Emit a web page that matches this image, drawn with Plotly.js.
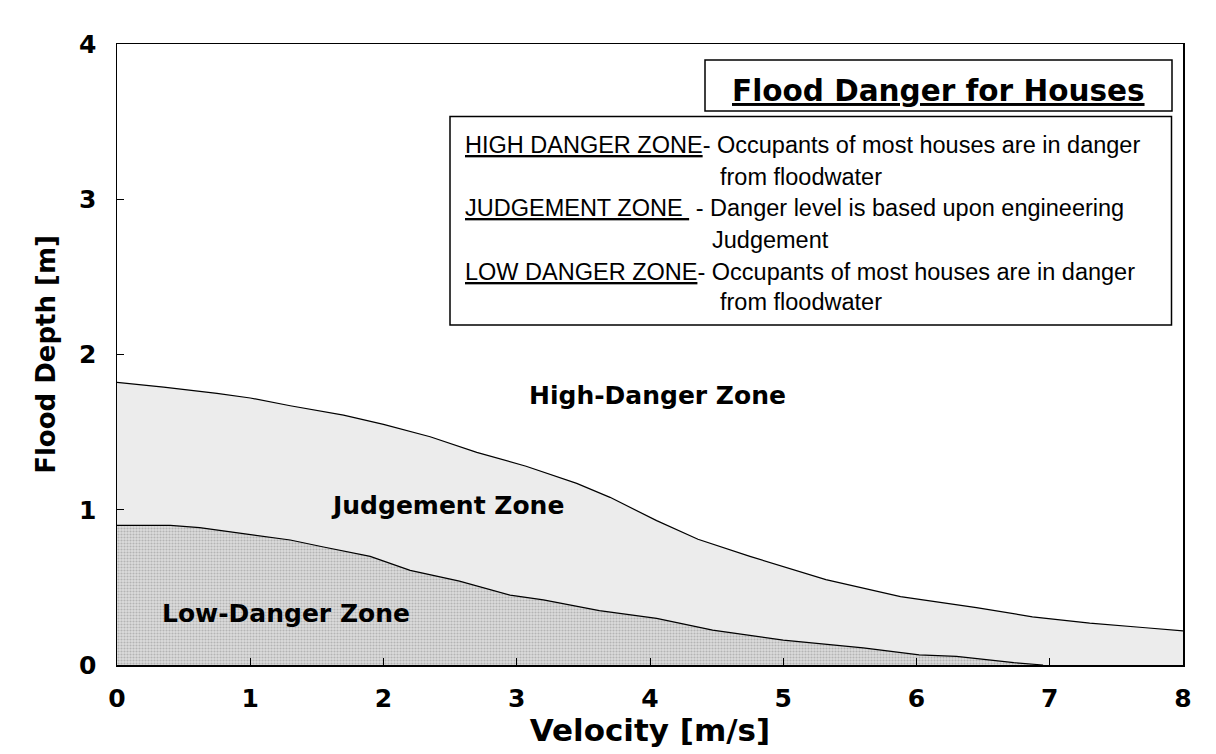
<!DOCTYPE html>
<html>
<head>
<meta charset="utf-8">
<script src="https://cdn.plot.ly/plotly-3.0.1.min.js"></script>
<style>html,body{margin:0;padding:0;background:#fff;}#chart{width:1216px;height:754px;}</style>
</head>
<body>
<div id="chart"></div>
<script>
// Upper boundary: Judgement / High-Danger
var upperVelocity = [0, 0.35, 0.75, 1.0, 1.3, 1.7, 2.0, 2.35, 2.7, 3.07, 3.45, 3.7, 4.05, 4.36, 4.75, 5.32, 5.88, 6.45, 6.87, 7.3, 7.72, 8.0];
var upperDepth    = [1.82, 1.79, 1.75, 1.72, 1.67, 1.61, 1.55, 1.47, 1.37, 1.28, 1.17, 1.08, 0.93, 0.81, 0.70, 0.55, 0.44, 0.37, 0.31, 0.27, 0.24, 0.22];
// Lower boundary: Low-Danger / Judgement
var lowerVelocity = [0, 0.4, 0.62, 1.0, 1.3, 1.55, 1.9, 2.2, 2.57, 2.95, 3.2, 3.62, 4.05, 4.47, 5.0, 5.6, 6.02, 6.3, 6.73, 6.95];
var lowerDepth    = [0.90, 0.90, 0.885, 0.84, 0.805, 0.76, 0.70, 0.61, 0.54, 0.45, 0.42, 0.35, 0.30, 0.225, 0.16, 0.11, 0.065, 0.055, 0.015, 0.0];

var xTicks = [0, 1, 2, 3, 4, 5, 6, 7, 8];
var yTicks = [0, 1, 2, 3, 4];

var titleText = "<u>Flood Danger for Houses</u>";
var zoneLabels = ["High-Danger Zone", "Judgement Zone", "Low-Danger Zone"];
var boxLines = [
  "<u>HIGH DANGER ZONE</u>- Occupants of most houses are in danger",
  "from floodwater",
  "<u>JUDGEMENT ZONE </u> - Danger level is based upon engineering",
  "Judgement",
  "<u>LOW DANGER ZONE</u>- Occupants of most houses are in danger",
  "from floodwater"
];

// pixel -> paper helpers (layout positioning only)
var L = 117, T = 44, W = 1066, H = 621;
function px(x) { return (x - L) / W; }
function py(y) { return (T + H - y) / H; }

var boldFont = {family: "DejaVu Sans", weight: "bold", color: "#000"};
function bf(size) { return Object.assign({}, boldFont, {size: size}); }
var textFont = {family: "Liberation Sans, Arial, sans-serif", size: 23.5, color: "#000"};

var traces = [
  {
    x: upperVelocity, y: upperDepth, type: "scatter", mode: "lines",
    line: {color: "#000", width: 1.2}, fill: "tozeroy", fillcolor: "#ececec",
    hoverinfo: "skip", showlegend: false
  },
  {
    x: lowerVelocity, y: lowerDepth, type: "scatter", mode: "lines",
    line: {color: "#000", width: 1.2}, fill: "tozeroy", fillcolor: "#d6d6d6",
    fillpattern: {shape: ".", bgcolor: "#dcdcdc", fgcolor: "#b4b4b4", size: 3, solidity: 0.4},
    hoverinfo: "skip", showlegend: false
  }
];

var annotations = [
  {text: titleText, xref: "paper", yref: "paper", x: px(938), y: py(91), xanchor: "center", yanchor: "middle", showarrow: false, font: bf(29.5)},
  {text: zoneLabels[0], xref: "paper", yref: "paper", x: px(657), y: py(395), xanchor: "center", yanchor: "middle", showarrow: false, font: bf(25)},
  {text: zoneLabels[1], xref: "paper", yref: "paper", x: px(447), y: py(505), xanchor: "center", yanchor: "middle", showarrow: false, font: bf(25)},
  {text: zoneLabels[2], xref: "paper", yref: "paper", x: px(286), y: py(613), xanchor: "center", yanchor: "middle", showarrow: false, font: bf(25)}
];
var lineX = [463, 718, 463, 710, 463, 718];
var lineY = [145, 177, 208, 240, 272, 302];
for (var i = 0; i < boxLines.length; i++) {
  annotations.push({text: boxLines[i], xref: "paper", yref: "paper", x: px(lineX[i]), y: py(lineY[i]),
    xanchor: "left", yanchor: "middle", showarrow: false, font: textFont});
}

var shapes = [
  {type: "rect", xref: "paper", yref: "paper", x0: px(705), x1: px(1172), y0: py(111), y1: py(60),
   line: {color: "#000", width: 1.5}, fillcolor: "rgba(255,255,255,0)", layer: "above"},
  {type: "rect", xref: "paper", yref: "paper", x0: px(450), x1: px(1171.5), y0: py(325), y1: py(116.5),
   line: {color: "#000", width: 1.5}, fillcolor: "rgba(255,255,255,0)", layer: "above"}
];

var layout = {
  width: 1216, height: 754,
  margin: {l: L, r: 1216 - L - W, t: T, b: 754 - T - H},
  paper_bgcolor: "#fff", plot_bgcolor: "#fff",
  showlegend: false,
  xaxis: {
    range: [0, 8], tickvals: xTicks, ticktext: xTicks.map(String),
    ticks: "inside", ticklen: 7, tickcolor: "#000", tickwidth: 1,
    showline: true, mirror: true, linecolor: "#000", linewidth: 1.5,
    showgrid: false, zeroline: false,
    tickfont: bf(25), ticklabelstandoff: 10,
    title: {text: "Velocity [m/s]", font: bf(31), standoff: 8}
  },
  yaxis: {
    range: [0, 4], tickvals: yTicks, ticktext: yTicks.map(String),
    ticks: "inside", ticklen: 7, tickcolor: "#000", tickwidth: 1,
    showline: true, mirror: true, linecolor: "#000", linewidth: 1.5,
    showgrid: false, zeroline: false,
    tickfont: bf(25), ticklabelstandoff: 14,
    title: {text: "Flood Depth [m]", font: bf(26), standoff: 16}
  },
  annotations: annotations,
  shapes: shapes
};

Plotly.newPlot("chart", traces, layout, {displayModeBar: false, staticPlot: true});
</script>
</body>
</html>
